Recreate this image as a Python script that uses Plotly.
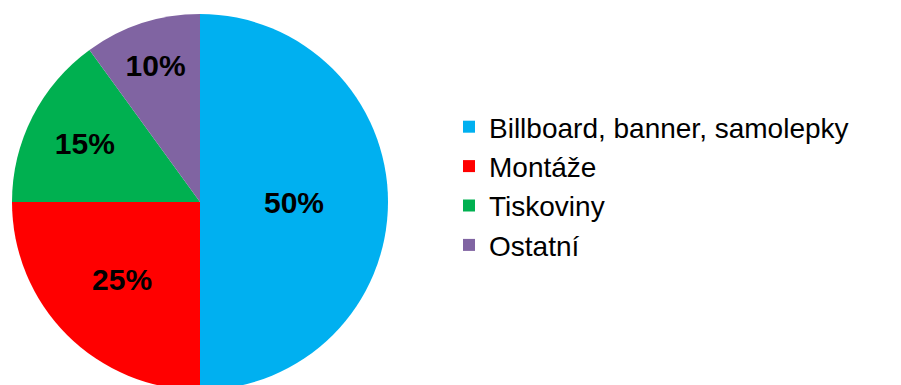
import plotly.graph_objects as go

labels = ["Billboard, banner, samolepky", "Montáže", "Tiskoviny", "Ostatní"]
values = [50, 25, 15, 10]
colors = ["#00B0F0", "#FF0000", "#00B050", "#8064A2"]

W, H = 901, 395
L, T = 12, 14
D = 376
PW = W - L

fig = go.Figure(go.Pie(
    labels=labels,
    values=values,
    marker=dict(colors=colors, line=dict(width=0)),
    sort=False,
    direction="clockwise",
    rotation=0,
    texttemplate="%{percent:.0%}",
    textposition="inside",
    insidetextorientation="horizontal",
    textfont=dict(family="Liberation Sans, Arial, sans-serif", size=30, color="black", weight="bold"),
    domain=dict(x=[0, D / PW], y=[0, 1]),
    hoverinfo="label+percent",
))

fig.update_layout(
    width=W, height=H,
    margin=dict(l=L, r=0, t=T, b=H - T - D, autoexpand=False),
    paper_bgcolor="white",
    showlegend=True,
    legend=dict(
        font=dict(family="Liberation Sans, Arial, sans-serif", size=28, color="black"),
        x=(449 - L) / PW, xanchor="left",
        y=1 - (186 - T) / D, yanchor="middle",
        bgcolor="rgba(0,0,0,0)",
        tracegroupgap=0,
    ),
)

fig.write_html("out.html", post_script="document.body.style.overflow='hidden';document.body.style.margin='0';")
